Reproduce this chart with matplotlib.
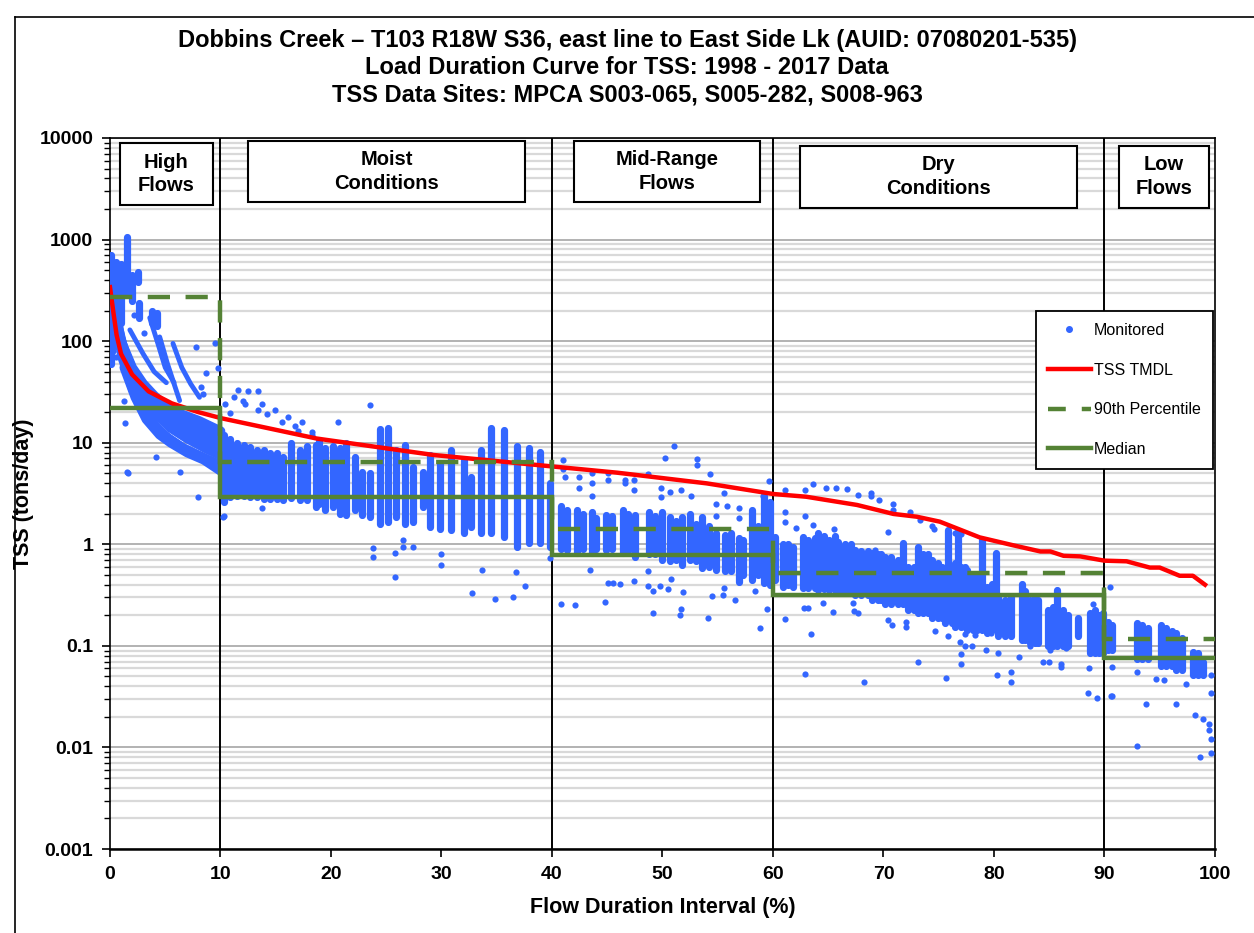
import matplotlib
matplotlib.use("Agg")
import matplotlib.pyplot as plt
import numpy as np
from matplotlib.lines import Line2D
from matplotlib.patches import Rectangle
from matplotlib.ticker import FixedLocator, NullFormatter

plt.rcParams['font.family'] = ['Liberation Sans', 'DejaVu Sans']

# ---- data ----
zone_edges = [0, 10, 40, 60, 90, 100]
zone_names = ["High\nFlows", "Moist\nConditions", "Mid-Range\nFlows", "Dry\nConditions", "Low\nFlows"]

p90_vals = [274, 6.5, 1.42, 0.525, 0.116]
median_vals = [22.1, 2.92, 0.785, 0.317, 0.0765]

tmdl_x = [0, 0.3, 0.6, 1.0, 2.0, 3.5, 5.6, 8.0, 10.1, 18.7, 29.3, 38.9, 45.9, 54.0, 60.0, 63.0,
          67.6, 70.9, 73.0, 75.1, 78.7, 81.7, 84.2, 85.1, 86.3, 87.8, 90.0, 92.0, 94.1, 95.0,
          96.8, 98.0, 99.1]
tmdl_y = [340, 195, 115, 75, 47, 32, 24.4, 20, 17.4, 11.0, 7.57, 6.0, 5.07, 3.98, 3.13, 2.94,
          2.44, 1.99, 1.87, 1.67, 1.17, 0.98, 0.85, 0.85, 0.77, 0.76, 0.69, 0.68, 0.59, 0.59,
          0.49, 0.49, 0.40]

# dense curved swaths of monitored loads in the high-flow zone
band_x = [[0.3, 1, 2, 3, 4, 5, 6.5, 8, 10],
          [0.4, 1.2, 2.2, 3.2, 4.5, 6, 7.5, 10],
          [0.5, 1.5, 2.5, 3.5, 5, 6.5, 8, 10],
          [0.7, 1.7, 2.7, 3.7, 5.2, 6.8, 8.3, 10],
          [0.8, 2, 3, 4, 5.5, 7, 8.5, 10],
          [1, 2, 3, 4, 5, 6.5, 8, 10],
          [1.1, 2.1, 3.1, 4.2, 5.3, 6.8, 8.3, 10],
          [1.3, 2.3, 3.3, 4.5, 5.5, 7, 8.5, 10]]
band_y = [[250, 100, 55, 38, 29, 23, 19, 16.5, 13],
          [200, 85, 47, 32, 23, 18, 15, 11.5],
          [150, 70, 40, 28, 18, 14, 11.5, 9.5],
          [120, 55, 34, 24, 16, 12.5, 10, 8.5],
          [100, 45, 28, 20, 14, 11, 9, 7.5],
          [80, 38, 22, 15, 11.5, 9, 7.5, 6],
          [70, 33, 20, 14, 11, 8.5, 7.2, 5.8],
          [55, 28, 17, 12, 10, 8, 6.8, 5.3]]
tail_x = [[1.8, 3.0, 4.0, 5.1], [3.6, 4.4, 5.0, 5.8], [4.5, 5.2, 5.8, 6.3], [5.7, 6.5, 7.3, 8.1]]
tail_y = [[129, 75, 50, 39], [170, 90, 55, 39], [110, 60, 38, 26], [95, 55, 38, 28]]

# vertical runs of monitored points (x, lowest, highest)
col_x = [0.1, 0.5, 1.0, 1.5, 2.0, 2.5, 2.6, 3.8, 4.3,
         10.3, 10.9, 11.5, 12.1, 12.7, 13.3, 13.9, 14.5, 15.1,
         15.7, 16.4, 17.2, 17.8, 18.6, 18.9, 19.5, 20.2, 20.8, 21.4, 22.2, 22.8, 23.5, 24.4,
         25.2, 25.9, 26.7, 27.4, 28.3, 29.0, 29.9, 30.9, 32.0, 32.7, 33.6, 34.5, 35.7, 36.8,
         37.9, 38.9, 39.8,
         40.8, 41.4, 42.3, 42.8, 43.6, 44.0, 44.9, 45.4, 46.4, 46.9, 47.5, 48.8, 49.3, 50.0,
         50.7, 51.2, 51.8, 52.5, 53.0, 53.6, 54.2, 54.8, 55.7, 56.2, 56.9, 57.3, 58.1, 58.6,
         59.2, 59.7,
         60.2, 60.9, 61.4, 61.8, 62.7, 63.2, 63.8, 64.1, 64.6, 65.1, 65.6, 65.9, 66.5, 67.1,
         67.4, 68.0, 68.6, 69.0, 69.5, 69.8, 70.1, 70.7, 71.3, 71.8, 72.2, 72.8, 73.1, 73.6,
         74.0, 74.4, 74.9, 75.3, 75.6, 76.2, 76.5, 77.0, 77.4, 77.6, 78.1, 78.5, 78.9, 79.4,
         79.8, 80.4, 81.0, 81.5, 82.5, 82.8, 83.3, 83.7, 84.0, 84.9, 85.3, 85.7, 86.2, 86.7,
         87.6, 88.7, 89.1, 89.5, 89.9, 75.8, 76.7, 78.9, 80.2,
         90.3, 90.7, 92.9, 93.4, 93.9, 95.1, 95.6, 96.1, 96.5, 97.0, 98.0, 98.5, 98.9]
col_lo = [60, 90, 150, 300, 250, 380, 170, 150, 140,
          2.6, 2.9, 3.0, 3.0, 2.9, 2.9, 2.8, 2.8, 2.8,
          2.73, 2.83, 2.73, 2.73, 2.35, 2.5, 2.18, 2.35, 2.0, 1.94, 2.18, 1.94, 1.86, 1.6,
          1.66, 1.86, 1.6, 1.66, 2.35, 1.49, 1.43, 1.38, 1.28, 1.49, 1.28, 1.28, 1.19, 0.95,
          1.03, 1.03, 0.95,
          0.9, 0.88, 0.83, 0.9, 0.83, 0.9, 0.88, 0.9, 0.83, 0.85, 0.75, 0.81, 0.8, 0.70,
          0.68, 0.7, 0.63, 0.70, 0.68, 0.58, 0.6, 0.56, 0.54, 0.55, 0.43, 0.5, 0.445, 0.5,
          0.42, 0.4,
          0.445, 0.38, 0.4, 0.38, 0.37, 0.37, 0.37, 0.355, 0.36, 0.355, 0.355, 0.34, 0.34, 0.34,
          0.32, 0.32, 0.32, 0.283, 0.283, 0.283, 0.26, 0.26, 0.26, 0.26, 0.225, 0.225, 0.21, 0.21,
          0.21, 0.19, 0.19, 0.19, 0.168, 0.168, 0.155, 0.155, 0.155, 0.143, 0.143, 0.143, 0.143, 0.135,
          0.143, 0.125, 0.125, 0.125, 0.114, 0.114, 0.106, 0.106, 0.106, 0.1, 0.1, 0.1, 0.1, 0.1,
          0.125, 0.085, 0.085, 0.085, 0.085, 0.56, 0.65, 0.41, 0.3,
          0.091, 0.091, 0.075, 0.075, 0.075, 0.063, 0.063, 0.063, 0.058, 0.058, 0.052, 0.052, 0.052]
col_hi = [700, 600, 580, 1050, 450, 480, 240, 200, 190,
          12, 11, 10, 9.5, 9, 8.5, 8.5, 8, 8,
          7.2, 9.9, 8.5, 9.2, 9.6, 10.3, 8.8, 9.2, 8.8, 9.9, 7.2, 5.2, 5.0, 13.5,
          14.0, 8.5, 9.6, 5.8, 5.2, 7.6, 6.3, 8.5, 6.8, 4.6, 8.5, 14, 13.3, 9.2,
          8.8, 8.1, 4.0,
          2.4, 2.2, 2.2, 2.0, 2.1, 1.8, 1.94, 1.9, 2.18, 2.0, 1.94, 2.1, 1.9, 2.1,
          1.86, 1.7, 1.86, 2.0, 1.6, 1.86, 1.5, 1.28, 1.23, 1.3, 1.15, 1.1, 2.18, 1.5,
          3.0, 2.6,
          1.19, 1.0, 1.0, 0.95, 1.19, 1.1, 1.15, 1.28, 1.2, 1.1, 1.2, 1.06, 1.0, 1.0,
          0.88, 0.85, 0.85, 0.83, 0.8, 0.8, 0.75, 0.75, 0.7, 1.04, 0.6, 0.6, 0.95, 0.8,
          0.8, 0.70, 0.65, 0.6, 0.56, 0.56, 0.65, 0.6, 0.6, 0.56, 0.5, 0.5, 0.41, 0.38,
          0.41, 0.31, 0.283, 0.3, 0.41, 0.35, 0.283, 0.3, 0.283, 0.225, 0.24, 0.355, 0.225, 0.2,
          0.19, 0.21, 0.225, 0.2, 0.21, 1.38, 1.35, 1.1, 0.83,
          0.172, 0.16, 0.168, 0.16, 0.15, 0.162, 0.15, 0.14, 0.135, 0.12, 0.088, 0.085, 0.07]

# individual monitored points
dot_x = [0.3, 0.5, 1.3, 1.4, 1.5, 1.6, 4.2, 6.3, 8.0, 7.8, 9.5, 9.8, 8.7, 8.2, 8.4, 2.5, 10.2,
         0.2, 0.8, 3.1, 2.2,
         10.4, 11.2, 11.6, 12.5, 13.4, 13.8, 14.9, 16.1, 17.4, 18.3, 19.5, 10.9, 12.2, 13.4,
         15.6, 16.7, 18.3, 23.5, 20.6, 13.8, 10.3, 12.0, 14.2, 17.0,
         23.8, 23.8, 25.8, 26.5, 26.5, 27.4, 25.8, 30.0, 30.0, 32.8, 33.7, 34.8, 36.5, 36.7,
         37.6, 39.8,
         41.0, 41.0, 41.2, 42.4, 42.4, 43.6, 43.6, 43.6, 45.1, 45.1, 46.6, 46.6, 47.4, 47.4,
         48.7, 49.9, 49.9, 50.2, 51.0, 50.7, 51.7, 52.6, 53.1, 53.1, 54.3, 54.8, 54.8, 55.6,
         55.8, 56.9, 56.9, 59.1, 59.6,
         40.8, 42.1, 43.4, 44.8, 45.1, 45.5, 46.2, 47.4, 48.7, 48.7, 49.1, 49.1, 49.8, 50.5,
         50.8, 51.6, 51.7, 51.9, 54.1, 54.5, 55.5, 55.6, 56.6, 58.4, 58.8, 59.5,
         61.1, 62.9, 63.6, 64.8, 65.7, 66.7, 67.7, 68.9, 68.9, 69.6, 70.9, 70.9, 72.4, 73.3,
         61.1, 61.1, 62.9, 63.6, 65.5, 62.1, 70.4, 69.2, 74.4, 74.6, 76.5, 77.0,
         61.1, 62.8, 63.2, 63.4, 62.9, 64.5, 65.4, 67.2, 67.3, 67.7, 68.2, 70.4, 70.8, 72.0,
         72.0, 73.1, 74.7, 75.7, 75.8, 76.9, 77.4, 77.4, 77.0, 77.0, 78.0, 78.3, 79.3, 79.7,
         80.4, 80.3, 81.5, 81.5, 81.5, 82.3, 83.3, 84.4, 85.0, 85.1, 86.1, 86.1, 86.5, 88.6,
         88.5, 89.3, 89.0,
         90.5, 90.7, 90.7, 92.9, 92.9, 93.8, 94.7, 95.4, 96.5, 97.4, 98.2, 98.9, 99.5, 99.5,
         99.6, 99.6, 98.6, 99.6, 99.6, 90.6]
dot_y = [80, 70, 26, 15.7, 5.2, 5.0, 7.2, 5.1, 2.9, 88, 95, 55, 49, 35, 30, 450, 1.85,
         500, 250, 120, 180,
         24, 28, 33, 32, 32, 24, 21, 18, 16, 12.8, 8.5, 19.5, 24, 21,
         16, 14.5, 11.8, 23.5, 16, 2.3, 1.9, 26, 19, 13,
         0.92, 0.75, 0.83, 1.1, 0.95, 0.95, 0.48, 0.81, 0.63, 0.33, 0.56, 0.29, 0.30, 0.53,
         0.39, 0.74,
         6.8, 5.5, 4.6, 4.6, 3.6, 5.0, 4.0, 3.0, 5.0, 4.3, 4.3, 4.0, 4.3, 3.4,
         4.9, 3.6, 2.9, 7.0, 9.2, 3.3, 3.4, 3.0, 6.9, 6.1, 4.9, 2.5, 1.9, 3.2,
         2.4, 2.3, 1.8, 3.0, 4.2,
         0.26, 0.25, 0.56, 0.27, 0.42, 0.42, 0.41, 0.44, 0.55, 0.39, 0.35, 0.21, 0.39, 0.36,
         0.46, 0.20, 0.23, 0.34, 0.19, 0.31, 0.32, 0.37, 0.28, 0.35, 0.15, 0.23,
         3.4, 3.4, 3.9, 3.6, 3.6, 3.5, 3.05, 3.2, 3.0, 2.73, 2.5, 2.2, 2.1, 1.73,
         2.1, 1.66, 1.9, 1.55, 1.4, 1.45, 1.33, 0.88, 1.5, 1.4, 1.3, 1.25,
         0.185, 0.235, 0.235, 0.13, 0.053, 0.265, 0.215, 0.265, 0.22, 0.21, 0.044, 0.18, 0.16, 0.17,
         0.155, 0.069, 0.14, 0.048, 0.126, 0.11, 0.1, 0.13, 0.083, 0.066, 0.1, 0.127, 0.091, 0.135,
         0.085, 0.052, 0.055, 0.044, 0.126, 0.077, 0.1, 0.07, 0.07, 0.091, 0.066, 0.062, 0.096, 0.060,
         0.034, 0.031, 0.26,
         0.38, 0.062, 0.032, 0.055, 0.0104, 0.027, 0.047, 0.046, 0.027, 0.042, 0.021, 0.019, 0.017, 0.015,
         0.012, 0.0089, 0.0081, 0.034, 0.052, 0.032]

y_ticks = [0.001, 0.01, 0.1, 1, 10, 100, 1000, 10000]
y_labels = ["0.001", "0.01", "0.1", "1", "10", "100", "1000", "10000"]
x_ticks = list(range(0, 101, 10))

BLUE = "#3366FF"
RED = "#FF0000"
GREEN = "#548235"

fig = plt.figure(figsize=(12.54, 9.33), dpi=100)
ax = fig.add_axes([0.0877, 0.0900, 0.8812, 0.7621])

ax.set_yscale("log")
ax.set_xlim(0, 100)
ax.set_ylim(0.001, 10000)

# grid
ax.yaxis.set_major_locator(FixedLocator(y_ticks))
minor = [m * 10.0 ** e for e in range(-3, 4) for m in range(2, 10)]
ax.yaxis.set_minor_locator(FixedLocator(minor))
ax.yaxis.set_minor_formatter(NullFormatter())
ax.grid(axis="y", which="major", color="#A6A6A6", lw=1.2, zorder=0)
ax.grid(axis="y", which="minor", color="#D9D9D9", lw=1.6, zorder=0)
ax.set_axisbelow(True)

# zone divider lines
for xb in zone_edges[1:-1]:
    ax.axvline(xb, color="black", lw=1.4, zorder=2)

# monitored data
for bx, by in zip(band_x, band_y):
    ax.plot(bx, by, color=BLUE, lw=7, solid_capstyle="round", zorder=3)
for tx, ty in zip(tail_x, tail_y):
    ax.plot(tx, ty, color=BLUE, lw=3.5, solid_capstyle="round", zorder=3)
ax.vlines(col_x, col_lo, col_hi, color=BLUE, lw=5.2, capstyle="round", zorder=3)
ax.scatter(dot_x, dot_y, s=20, color=BLUE, linewidths=0, zorder=3)

# TMDL curve
ax.plot(tmdl_x, tmdl_y, color=RED, lw=3.2, zorder=4)

# percentile steps
ax.stairs(p90_vals, zone_edges, baseline=None, color=GREEN, lw=3.2,
          linestyle=(0, (5, 3.5)), zorder=5)
ax.stairs(median_vals, zone_edges, baseline=None, color=GREEN, lw=3.2, zorder=5)

# zone label boxes (axes fraction)
boxes = [(0.009, 0.906, 0.084, 0.087), (0.125, 0.910, 0.251, 0.086),
         (0.420, 0.910, 0.168, 0.086), (0.624, 0.902, 0.251, 0.087),
         (0.913, 0.902, 0.082, 0.087)]
for (bx0, by0, bw, bh), name in zip(boxes, zone_names):
    ax.add_patch(Rectangle((bx0, by0), bw, bh, transform=ax.transAxes, facecolor="white",
                           edgecolor="black", lw=1.5, zorder=6, clip_on=False))
    ax.text(bx0 + bw / 2, by0 + bh / 2, name, transform=ax.transAxes, ha="center",
            va="center", fontsize=14.5, fontweight="bold", linespacing=1.3, zorder=7)

# axes styling
ax.set_yticklabels(y_labels)
ax.set_xticks(x_ticks)
ax.tick_params(axis="both", which="major", labelsize=14, direction="out", length=6,
               width=1.2, pad=6)
ax.tick_params(axis="y", which="minor", direction="out", length=4, width=1)
for lab in ax.get_xticklabels() + ax.get_yticklabels():
    lab.set_fontweight("bold")
for sp in ax.spines.values():
    sp.set_linewidth(1.2)
ax.spines["bottom"].set_linewidth(1.8)

ax.set_xlabel("Flow Duration Interval (%)", fontsize=15.5, fontweight="bold", labelpad=10)
ax.set_ylabel("TSS (tons/day)", fontsize=15.5, fontweight="bold", labelpad=4)

fig.text(0.5, 0.957, "Dobbins Creek \u2013 T103 R18W S36, east line to East Side Lk (AUID: 07080201-535)",
         ha="center", va="center", fontsize=17, fontweight="bold")
fig.text(0.5, 0.928, "Load Duration Curve for TSS: 1998 - 2017 Data",
         ha="center", va="center", fontsize=17, fontweight="bold")
fig.text(0.5, 0.898, "TSS Data Sites: MPCA S003-065, S005-282, S008-963",
         ha="center", va="center", fontsize=17, fontweight="bold")

# legend
handles = [Line2D([], [], color=BLUE, marker="o", ms=4, ls="none"),
           Line2D([], [], color=RED, lw=3.2),
           Line2D([], [], color=GREEN, lw=3.2, ls=(0, (4, 3.6))),
           Line2D([], [], color=GREEN, lw=3.2)]
leg = ax.legend(handles, ["Monitored", "TSS TMDL", "90th Percentile", "Median"],
                loc="upper right", bbox_to_anchor=(0.998, 0.757), fontsize=11.5,
                labelspacing=1.55, handlelength=2.7, handletextpad=0.2,
                borderpad=0.75, borderaxespad=0, fancybox=False, framealpha=1)
leg.get_frame().set_edgecolor("black")
leg.get_frame().set_linewidth(1.3)
leg.set_zorder(8)

# outer frame of the figure
fig.add_artist(Line2D([15 / 1254, 15 / 1254], [0, 1 - 17 / 933], color="black", lw=1.2))
fig.add_artist(Line2D([15 / 1254, 1], [1 - 17 / 933, 1 - 17 / 933], color="black", lw=1.2))

fig.savefig("out.png", dpi=100)
